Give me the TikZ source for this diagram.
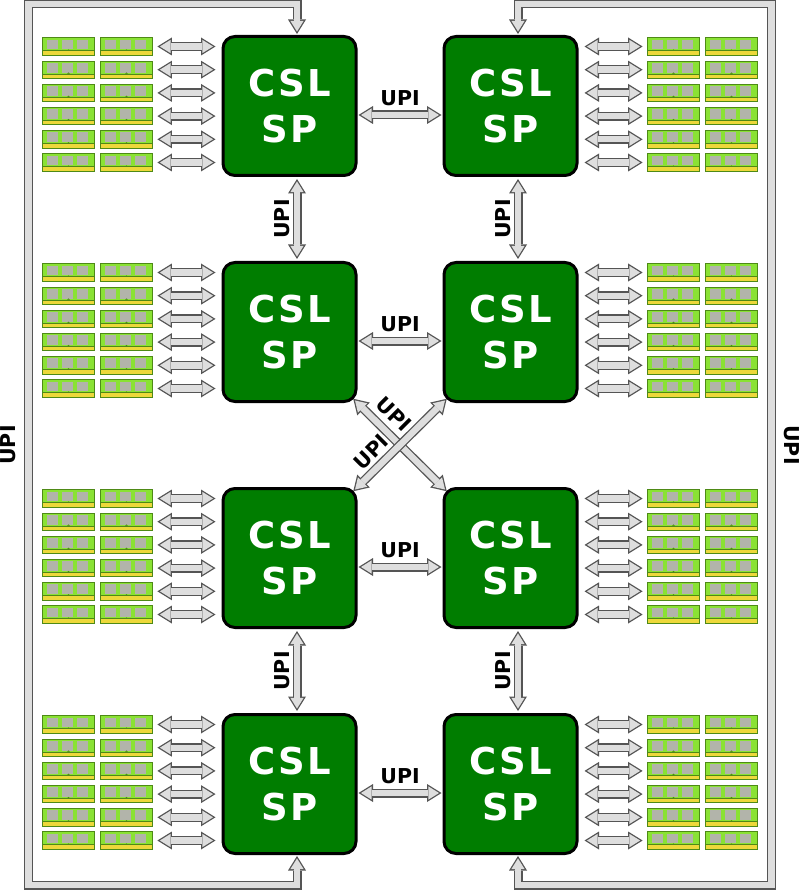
\documentclass[tikz,border=0pt]{standalone}
\usepackage{fontspec}
\setmainfont{DejaVu Sans}
\newfontfamily\cpufont[LetterSpace=6]{DejaVu Sans}
\usetikzlibrary{arrows.meta,calc}
\definecolor{cpugreen}{HTML}{007D00}
\definecolor{dimmgreen}{HTML}{8AE234}
\definecolor{dimmedge}{HTML}{4E8A16}
\definecolor{dimmchip}{HTML}{B2B4AA}
\definecolor{dimmgold}{HTML}{EDD83A}
\definecolor{arrfill}{HTML}{DEDEDE}
\definecolor{arrline}{HTML}{555555}
\tikzset{
  cpu/.style={draw=black, line width=3pt, fill=cpugreen, rounded corners=12pt,
    minimum width=133pt, minimum height=139pt, inner sep=0pt, text=white,
    align=center, font=\cpufont\bfseries\fontsize{37}{46.5}\selectfont},
  lab/.style={inner sep=0pt, font=\bfseries\fontsize{20.5}{24}\selectfont},
  dimm/.style={draw=dimmedge, line width=0.8pt, fill=dimmgreen,
    minimum width=52pt, minimum height=17.4pt, inner sep=0pt,
    path picture={
      \path (path picture bounding box.north west) coordinate (pp);
      \fill[dimmchip] ($(pp)+(4,1.8)$) rectangle ($(pp)+(15,11.6)$);
      \fill[dimmchip] ($(pp)+(19,1.8)$) rectangle ($(pp)+(30,11.6)$);
      \fill[dimmchip] ($(pp)+(34,1.8)$) rectangle ($(pp)+(45,11.6)$);
      \fill[dimmgold] ($(pp)+(0,12.9)$) rectangle ($(pp)+(52,17.4)$);
      \draw[dimmedge, line width=0.6pt] ($(pp)+(0,12.9)$) -- ($(pp)+(52,12.9)$);
      \draw[dimmedge, line width=0.6pt] ($(pp)+(25,12.9)$) -- ($(pp)+(26,11.9)$) -- ($(pp)+(27,12.9)$);
    }},
  arrO/.style={draw=arrline, line width=9pt, line join=miter,
    arrows={Triangle[length=14.5pt,width=18pt,line width=0pt]-Triangle[length=14.5pt,width=18pt,line width=0pt]}},
  arrI/.style={draw=arrfill, line width=6.4pt, line join=miter,
    shorten <=2.47pt, shorten >=2.47pt,
    arrows={Triangle[length=10.7pt,width=13.3pt,line width=0pt]-Triangle[length=10.7pt,width=13.3pt,line width=0pt]}},
}
\newcommand\hollowarrow[1]{\draw[arrO] #1; \draw[arrI] #1;}
\begin{document}
\begin{tikzpicture}[x=1pt,y=-1pt]
\fill[white] (0,0) rectangle (800,890);
\useasboundingbox (0,0) rectangle (800,890);

% processors
\foreach \r/\cy in {1/106,2/332,3/558,4/784}{
  \node[cpu] (c\r1) at (289.5,\cy) {CSL\\SP};
  \node[cpu] (c\r2) at (510.5,\cy) {CSL\\SP};
}

% memory modules and their links
\foreach \r/\cy in {1/106,2/332,3/558,4/784}{
  \foreach \k in {0,...,5}{
    \pgfmathsetmacro\dy{\cy-59.5+23.2*\k}
    \node[dimm] (dLa\r\k) at (68.5,\dy) {};
    \node[dimm] (dLb\r\k) at (126.5,\dy) {};
    \node[dimm] (dRa\r\k) at (673.5,\dy) {};
    \node[dimm] (dRb\r\k) at (731.5,\dy) {};
    \hollowarrow{($(dLb\r\k.east)+(4.5,0)$) -- ($(c\r1.west |- dLb\r\k)+(-6,0)$)}
    \hollowarrow{($(c\r2.east |- dRa\r\k)+(6,0)$) -- ($(dRa\r\k.west)+(-4.5,0)$)}
  }
}

% horizontal UPI links
\foreach \r in {1,...,4}{
  \hollowarrow{($(c\r1.east)+(1,9)$) -- ($(c\r2.west)+(-1,9)$)}
  \node[lab] at ($(c\r1.east)!0.5!(c\r2.west)+(0,-8)$) {UPI};
}

% vertical UPI links
\foreach \a/\b in {1/2,3/4}{
  \foreach \c in {1,2}{
    \hollowarrow{($(c\a\c.south)+(7.5,2)$) -- ($(c\b\c.north)+(7.5,-2)$)}
    \node[lab,rotate=90] at ($(c\a\c.south)!0.5!(c\b\c.north)+(-7.5,0)$) {UPI};
  }
}

% crossed UPI links
\hollowarrow{($(c21.south east)+(-4.25,-4.25)$) -- ($(c32.north west)+(4.25,4.25)$)}
\hollowarrow{($(c31.north east)+(-4.25,4.25)$) -- ($(c22.south west)+(4.25,-4.25)$)}
\node[lab,rotate=-45] at (394,414) {UPI};
\node[lab,rotate=45] at (371,452) {UPI};

% outer UPI loops
\coordinate (LT) at (28.5,4);
\coordinate (LB) at (28.5,885);
\coordinate (RT) at (771.5,4);
\coordinate (RB) at (771.5,885);
\hollowarrow{($(c11.north)+(7.5,-1)$) |- (LT) -- (LB) -| ($(c41.south)+(7.5,1)$)}
\hollowarrow{($(c12.north)+(7.5,-1)$) |- (RT) -- (RB) -| ($(c42.south)+(7.5,1)$)}
\node[lab,rotate=90] at (8,445) {UPI};
\node[lab,rotate=-90] at (791.5,445) {UPI};
\end{tikzpicture}
\end{document}
